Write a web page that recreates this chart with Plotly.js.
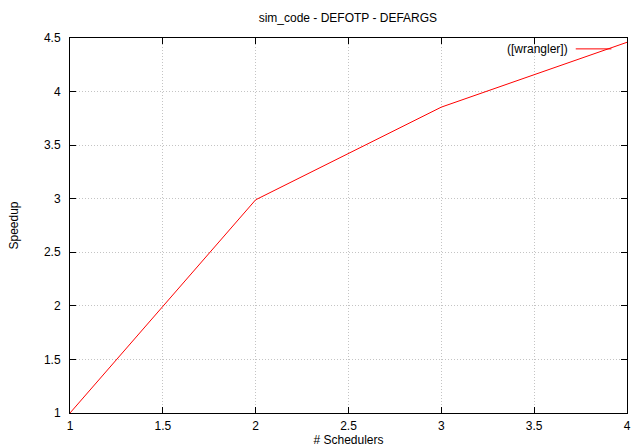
<!DOCTYPE html>
<html>
<head>
<meta charset="utf-8">
<script src="https://cdn.plot.ly/plotly-3.0.1.min.js"></script>
<style>html,body{margin:0;padding:0;background:#fff;}#chart{width:636px;height:447px;}</style>
</head>
<body>
<div id="chart"></div>
<script>
const schedulers = [1, 2, 3, 4];
const speedup = [1, 2.99, 3.855, 4.46];
const seriesName = "([wrangler])";
const xTicks = [1, 1.5, 2, 2.5, 3, 3.5, 4];
const yTicks = [1, 1.5, 2, 2.5, 3, 3.5, 4, 4.5];

const font = {family: "Liberation Sans, Arial, sans-serif", size: 12, color: "#000"};

const trace = {
  x: schedulers, y: speedup, type: "scatter", mode: "lines",
  name: seriesName, line: {color: "#ff0000", width: 1}, showlegend: false
};

const axisCommon = {
  showline: true, linecolor: "#000", linewidth: 1, mirror: "allticks",
  ticks: "inside", ticklen: 6, tickcolor: "#000", tickwidth: 1,
  showgrid: true, gridcolor: "#c4c4c4", griddash: "1px,2px", gridwidth: 1,
  zeroline: false, tickfont: font
};

const layout = {
  width: 636, height: 447,
  margin: {l: 70, r: 9, t: 38, b: 34},
  paper_bgcolor: "#fff", plot_bgcolor: "#fff",
  font: font,
  title: {text: "sim_code - DEFOTP - DEFARGS", font: {family: font.family, size: 12, color: "#000"}, x: 0.547, xanchor: "center", y: 0.96, yanchor: "middle"},
  xaxis: Object.assign({}, axisCommon, {
    range: [1, 4], tickvals: xTicks, ticktext: xTicks.map(String), ticklabelstandoff: 2,
    title: {text: "# Schedulers", font: font, standoff: 21}
  }),
  yaxis: Object.assign({}, axisCommon, {
    range: [1, 4.5], tickvals: yTicks, ticktext: yTicks.map(String), ticklabelstandoff: 6,
    title: {text: "Speedup", font: font, standoff: 22}
  }),
  showlegend: false,
  annotations: [{
    xref: "paper", yref: "paper", x: 0.897, y: 0.971, xanchor: "right", yanchor: "middle",
    text: seriesName, showarrow: false, font: font
  }],
  shapes: [{
    type: "line", xref: "paper", yref: "paper", x0: 0.908, x1: 0.972, y0: 0.971, y1: 0.971,
    line: {color: "#ff0000", width: 1}
  }]
};

Plotly.newPlot("chart", [trace], layout, {staticPlot: true, displayModeBar: false});
</script>
</body>
</html>
